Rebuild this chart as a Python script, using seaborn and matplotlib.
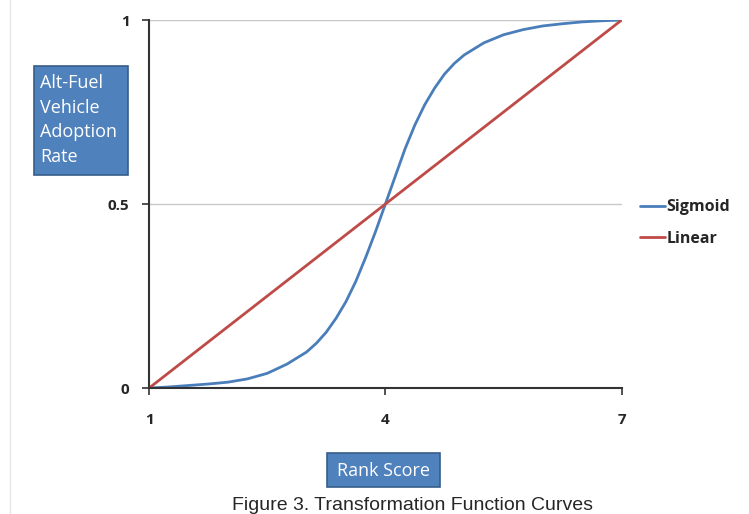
import matplotlib
matplotlib.use("Agg")
import matplotlib.pyplot as plt
import pandas as pd
import seaborn as sns
from matplotlib.lines import Line2D
from matplotlib.patches import Rectangle

# values
rank_score = [1.0, 1.25, 1.5, 1.75, 2.0, 2.25, 2.5, 2.75, 3.0, 3.125, 3.25, 3.375, 3.5, 3.625, 3.75, 3.875,
              4.0, 4.125, 4.25, 4.375, 4.5, 4.625, 4.75, 4.875, 5.0, 5.25, 5.5, 5.75, 6.0, 6.25, 6.5, 6.75, 7.0]
sigmoid = [0.0, 0.003, 0.007, 0.011, 0.016, 0.025, 0.04, 0.065, 0.098, 0.122, 0.152, 0.19, 0.235, 0.29, 0.355, 0.425,
           0.5, 0.575, 0.65, 0.715, 0.77, 0.815, 0.853, 0.882, 0.905, 0.938, 0.96, 0.974, 0.984, 0.99, 0.995, 0.998, 1.0]
linear_x = [1, 7]
linear_y = [0.0, 1.0]
x_ticks = [1, 4, 7]
y_ticks = [0, 0.5, 1]
y_tick_labels = ["0", "0.5", "1"]

BLUE = "#4A7EBB"
RED = "#BE4B48"
BOX = "#4F81BD"
BOX_EDGE = "#385D8A"

sns.set_theme(style="white")
plt.rcParams["font.family"] = ["Open Sans", "DejaVu Sans"]

df = pd.concat([
    pd.DataFrame({"Rank Score": rank_score, "Rate": sigmoid, "Curve": "Sigmoid"}),
    pd.DataFrame({"Rank Score": linear_x, "Rate": linear_y, "Curve": "Linear"}),
])

fig = plt.figure(figsize=(7.49, 5.14), dpi=100)
ax = fig.add_axes([0.199, 0.245, 0.631, 0.716])

sns.lineplot(data=df, x="Rank Score", y="Rate", hue="Curve", palette={"Sigmoid": BLUE, "Linear": RED},
             linewidth=2, legend=False, ax=ax, sort=False)

ax.set_xlim(1, 7)
ax.set_ylim(0, 1)
ax.set_xticks(x_ticks)
ax.set_yticks(y_ticks)
ax.set_yticklabels(y_tick_labels)
for lbl in ax.get_xticklabels() + ax.get_yticklabels():
    lbl.set_fontweight("bold")
    lbl.set_fontsize(11)
ax.set_xlabel("")
ax.set_ylabel("")
ax.tick_params(axis="both", direction="out", length=5, width=1.2, color="#333333", bottom=True, left=True)
ax.tick_params(axis="x", pad=13)
ax.tick_params(axis="y", pad=9)
for y in [0.5, 1]:
    ax.axhline(y, color="#C8C8C8", linewidth=1, zorder=0)
for side in ["top", "right"]:
    ax.spines[side].set_visible(False)
for side in ["left", "bottom"]:
    ax.spines[side].set_color("#333333")
    ax.spines[side].set_linewidth(1.5)

# legend
handles = [Line2D([], [], color=BLUE, linewidth=2), Line2D([], [], color=RED, linewidth=2)]
fig.legend(handles, ["Sigmoid", "Linear"], loc="upper left", bbox_to_anchor=(0.835, 0.64),
           frameon=False, handlelength=1.6, handletextpad=0.05, labelspacing=0.95,
           prop={"weight": "bold", "size": 11.5})

# axis title boxes
fig.patches.append(Rectangle((34 / 749, 1 - 175 / 514), 94 / 749, 109 / 514, transform=fig.transFigure,
                             facecolor=BOX, edgecolor=BOX_EDGE, linewidth=1.2))
fig.text(40 / 749, 1 - 74 / 514, "Alt-Fuel\nVehicle\nAdoption\nRate", color="white", fontsize=13,
         va="top", ha="left", linespacing=1.47)
fig.patches.append(Rectangle((327 / 749, 1 - 487 / 514), 113 / 749, 34 / 514, transform=fig.transFigure,
                             facecolor=BOX, edgecolor=BOX_EDGE, linewidth=1.2))
fig.text(383.5 / 749, 1 - 471 / 514, "Rank Score", color="white", fontsize=13, va="center", ha="center")

# page edge and caption
fig.add_artist(Line2D([10 / 749, 10 / 749], [0, 1], color="#E6E6E6", linewidth=1, transform=fig.transFigure))
fig.text(412 / 749, 1 - 497 / 514, "Figure 3. Transformation Function Curves", fontsize=14,
         family=["Liberation Sans", "DejaVu Sans"], va="top", ha="center")

fig.savefig("out.png", dpi=100)
